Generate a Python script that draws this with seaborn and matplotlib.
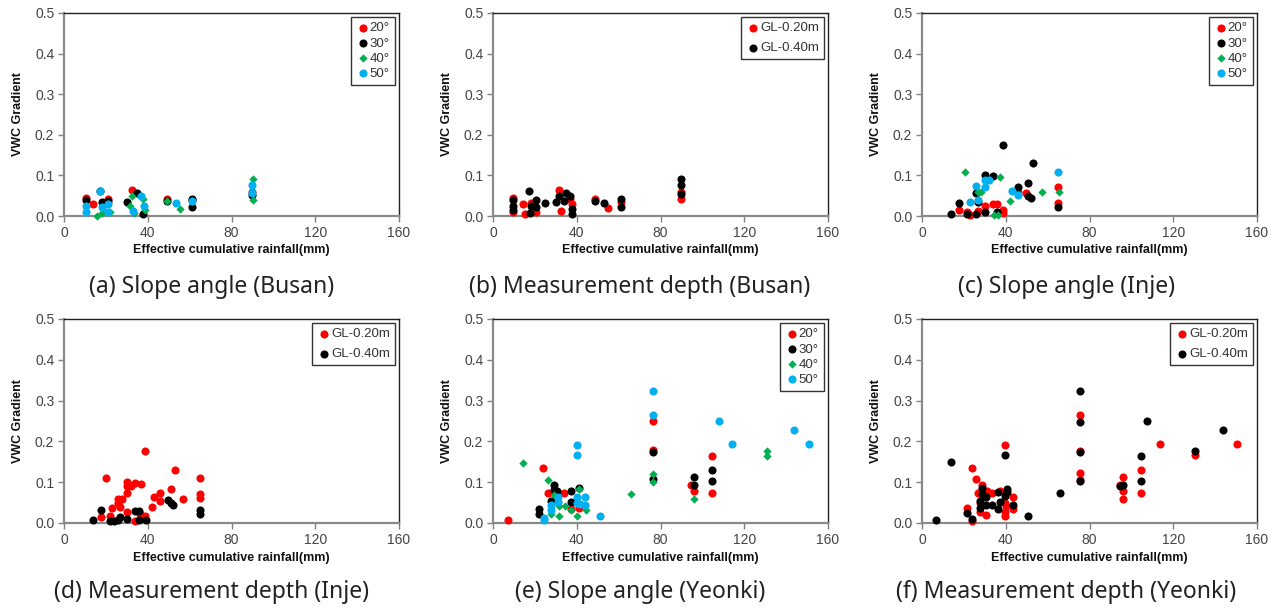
import matplotlib
matplotlib.use("Agg")
import matplotlib.pyplot as plt
import seaborn as sns
import pandas as pd

# ---------------- data ----------------
angle_labels = ["20°", "30°", "40°", "50°"]
depth_labels = ["GL-0.20m", "GL-0.40m"]
x_ticks = [0, 40, 80, 120, 160]
y_ticks = [0.0, 0.1, 0.2, 0.3, 0.4, 0.5]
x_label = "Effective cumulative rainfall(mm)"
y_label = "VWC Gradient"
captions = ["(a) Slope angle (Busan)", "(b) Measurement depth (Busan)", "(c) Slope angle (Inje)",
            "(d) Measurement depth (Inje)", "(e) Slope angle (Yeonki)", "(f) Measurement depth (Yeonki)"]

# (a) Slope angle (Busan)
a20_x = [10.3, 14, 21.1, 32.3, 49, 61, 90]
a20_y = [0.044, 0.030, 0.041, 0.064, 0.042, 0.039, 0.058]
a30_x = [10.3, 17.2, 18, 21.1, 29.9, 35, 37.8, 49, 61, 90, 61]
a30_y = [0.039, 0.062, 0.035, 0.037, 0.034, 0.056, 0.006, 0.037, 0.023, 0.052, 0.041]
a40_x = [15.6, 18, 22, 31.5, 32.6, 33.4, 37.5, 38.6, 49, 55.3, 90.3, 90.3, 61]
a40_y = [0.001, 0.007, 0.011, 0.025, 0.049, 0.008, 0.041, 0.015, 0.037, 0.018, 0.090, 0.039, 0.037]
a50_x = [10.3, 10.3, 17.2, 18, 21.1, 21.1, 33, 37, 38.2, 53.3, 61, 90, 90]
a50_y = [0.025, 0.010, 0.062, 0.021, 0.030, 0.011, 0.013, 0.050, 0.025, 0.031, 0.037, 0.077, 0.056]

# (b) Measurement depth (Busan)
b20_x = [9.7, 9.7, 14.1, 15.1, 18.1, 20.6, 31.6, 32.7, 36.9, 37.8, 48.8, 54.7, 60.9, 89.6, 89.6]
b20_y = [0.045, 0.009, 0.030, 0.004, 0.033, 0.011, 0.064, 0.012, 0.041, 0.030, 0.041, 0.020, 0.035, 0.058, 0.041]
b40_x = [9.7, 9.7, 9.7, 17, 17.8, 18.1, 20.6, 20.6, 25, 29.9, 31.6, 34, 35, 36.9, 37.8, 37.8,
         48.8, 53.1, 60.9, 60.9, 89.6, 89.6, 89.6]
b40_y = [0.039, 0.025, 0.015, 0.062, 0.007, 0.025, 0.039, 0.023, 0.031, 0.034, 0.050, 0.037, 0.056,
         0.050, 0.017, 0.005, 0.037, 0.031, 0.042, 0.021, 0.091, 0.076, 0.053]

# (c) Slope angle (Inje)
c20_x = [17.8, 21.7, 23.1, 26.6, 29.9, 33.8, 35.9, 38.7, 38.7, 45.7, 49.8, 65, 65]
c20_y = [0.015, 0.009, 0.002, 0.013, 0.025, 0.029, 0.029, 0.015, 0.007, 0.058, 0.056, 0.072, 0.031]
c30_x = [13.9, 17.8, 21.7, 26, 26, 26.8, 29.9, 29.9, 33.8, 35.9, 38.7, 45.7, 50.6, 50.6, 51.9, 53, 65]
c30_y = [0.005, 0.031, 0.005, 0.056, 0.005, 0.035, 0.100, 0.009, 0.099, 0.009, 0.176, 0.072, 0.082,
         0.050, 0.044, 0.130, 0.021]
c40_x = [20.4, 26.6, 28.2, 34.2, 36.1, 37.3, 42.2, 57.2, 65.5]
c40_y = [0.108, 0.058, 0.058, 0.002, 0.002, 0.095, 0.037, 0.058, 0.060]
c50_x = [22.8, 26, 26.6, 29.9, 29.9, 31.8, 43, 45.7, 65]
c50_y = [0.035, 0.075, 0.039, 0.072, 0.089, 0.089, 0.062, 0.052, 0.109]

# (d) Measurement depth (Inje)
d20_x = [20.2, 17.9, 21.9, 23, 25.9, 25.9, 26.7, 27.8, 29.9, 29.9, 30, 30, 32, 33.9, 36.7, 38.8, 38.8,
         36.2, 33.9, 42.1, 42.9, 45.9, 45.9, 51, 53.1, 56.9, 64.9, 64.9, 64.9]
d20_y = [0.111, 0.015, 0.016, 0.036, 0.060, 0.049, 0.039, 0.058, 0.101, 0.090, 0.074, 0.027, 0.090,
         0.099, 0.096, 0.176, 0.016, 0.021, 0.005, 0.039, 0.063, 0.074, 0.054, 0.083, 0.130, 0.059,
         0.111, 0.072, 0.062]
d40_x = [14, 17.9, 21.9, 24, 25.9, 26.7, 30.2, 33.9, 35.9, 35.9, 39, 49.8, 51, 52.1, 64.9, 64.9]
d40_y = [0.007, 0.032, 0.005, 0.004, 0.007, 0.015, 0.010, 0.030, 0.030, 0.008, 0.008, 0.056, 0.050,
         0.045, 0.033, 0.023]

# (e) Slope angle (Yeonki)
e20_x = [7, 23.8, 26.5, 33.7, 37.2, 40.9, 76.2, 76.2, 94.4, 96, 104.8, 104.8]
e20_y = [0.007, 0.136, 0.074, 0.074, 0.034, 0.036, 0.249, 0.178, 0.092, 0.079, 0.165, 0.074]
e30_x = [21.8, 21.8, 27.8, 28.9, 28.9, 30.8, 37.2, 37.2, 41, 76.2, 76.2, 96, 96, 104.8, 104.8]
e30_y = [0.035, 0.023, 0.055, 0.094, 0.082, 0.078, 0.078, 0.051, 0.085, 0.174, 0.107, 0.113, 0.094,
         0.130, 0.103]
e40_x = [14.3, 26.5, 27.8, 29.2, 31.5, 31.5, 34.5, 37.2, 40.1, 40.1, 41.2, 44.2, 66.1, 76.2, 76.2,
         96.2, 130.7, 130.7]
e40_y = [0.147, 0.105, 0.023, 0.069, 0.016, 0.041, 0.041, 0.031, 0.049, 0.016, 0.083, 0.033, 0.071,
         0.119, 0.101, 0.058, 0.176, 0.165]
e50_x = [24.2, 24.2, 27.8, 27.8, 31.2, 31.2, 39.9, 39.9, 39.9, 39.9, 41.7, 43.9, 43.9, 50.9, 76.2,
         76.2, 107.8, 114, 143.7, 150.9]
e50_y = [0.012, 0.007, 0.043, 0.033, 0.063, 0.052, 0.191, 0.167, 0.063, 0.050, 0.046, 0.063, 0.043,
         0.016, 0.323, 0.265, 0.249, 0.193, 0.227, 0.193]

# (f) Measurement depth (Yeonki)
f20_x = [21.7, 23.7, 23.7, 25.6, 26.6, 27.5, 27.5, 28.7, 30.7, 31.1, 33.6, 37.4, 39.5, 39.5, 39.5,
         39.5, 40.3, 43.5, 43.5, 75.6, 75.6, 75.6, 75.6, 94.6, 95.9, 95.9, 95.9, 104.8, 104.8, 113.5,
         130.4, 150.6]
f20_y = [0.036, 0.136, 0.006, 0.107, 0.073, 0.050, 0.027, 0.092, 0.019, 0.079, 0.074, 0.079, 0.191,
         0.049, 0.026, 0.016, 0.041, 0.063, 0.035, 0.265, 0.177, 0.123, 0.106, 0.092, 0.112, 0.079,
         0.060, 0.131, 0.074, 0.193, 0.166, 0.193]
f40_x = [6.7, 13.9, 21.7, 23.7, 27.5, 27.5, 28.7, 28.7, 30.7, 30.7, 33.6, 36.5, 36.5, 37.4, 39.5,
         39.5, 40.6, 40.6, 43.5, 50.6, 65.8, 75.6, 75.6, 75.6, 75.6, 94.6, 95.9, 104.8, 104.8, 107.6,
         130.4, 143.6]
f40_y = [0.007, 0.149, 0.024, 0.011, 0.055, 0.037, 0.086, 0.071, 0.063, 0.043, 0.043, 0.076, 0.034,
         0.051, 0.167, 0.065, 0.084, 0.075, 0.043, 0.016, 0.073, 0.324, 0.248, 0.175, 0.103, 0.090,
         0.094, 0.165, 0.103, 0.249, 0.177, 0.227]

angle_colors = ["#FF0000", "#000000", "#00B050", "#00B0F0"]
angle_markers = ["o", "o", "D", "o"]
angle_sizes = [34, 34, 18, 34]
depth_colors = ["#FF0000", "#000000"]

panels = [
    ("angle", [(a20_x, a20_y), (a30_x, a30_y), (a40_x, a40_y), (a50_x, a50_y)]),
    ("depth", [(b20_x, b20_y), (b40_x, b40_y)]),
    ("angle", [(c20_x, c20_y), (c30_x, c30_y), (c40_x, c40_y), (c50_x, c50_y)]),
    ("depth", [(d20_x, d20_y), (d40_x, d40_y)]),
    ("angle", [(e20_x, e20_y), (e30_x, e30_y), (e40_x, e40_y), (e50_x, e50_y)]),
    ("depth", [(f20_x, f20_y), (f40_x, f40_y)]),
]

# ---------------- figure ----------------
sns.set_theme(style="white")
plt.rcParams["font.family"] = ["Liberation Sans", "DejaVu Sans"]

W, H = 1274, 609
fig = plt.figure(figsize=(W / 100, H / 100), dpi=100)

col_left = [64, 493, 922]
col_w = 335
row_top = [13, 319]
row_h = [203, 204]
cap_cx = [212, 640, 1066]
cap_cy = [287, 592]

for i, (kind, series) in enumerate(panels):
    r, c = divmod(i, 3)
    ax = fig.add_axes([col_left[c] / W, 1 - (row_top[r] + row_h[r]) / H, col_w / W, row_h[r] / H])
    if kind == "angle":
        labels, colors, markers, sizes = angle_labels, angle_colors, angle_markers, angle_sizes
    else:
        labels, colors, markers, sizes = depth_labels, depth_colors, ["o", "o"], [34, 34]
    for (xs, ys), lab, col, mk, sz in zip(series, labels, colors, markers, sizes):
        df = pd.DataFrame({"x": xs, "y": ys})
        sns.scatterplot(data=df, x="x", y="y", color=col, marker=mk, s=sz, linewidth=0,
                        label=lab, ax=ax, zorder=3, clip_on=False)
    ax.set_xlim(0, 160)
    ax.set_ylim(0, 0.5)
    ax.set_xticks(x_ticks)
    ax.set_yticks(y_ticks)
    ax.set_xticklabels([str(t) for t in x_ticks])
    ax.set_yticklabels([f"{t:.1f}" for t in y_ticks])
    ax.tick_params(axis="both", which="major", direction="out", length=4, width=1,
                   color="#808080", labelsize=10, labelcolor="#444444", pad=3,
                   bottom=True, left=True)
    for side in ["left", "bottom"]:
        ax.spines[side].set_color("#8a8a8a")
        ax.spines[side].set_linewidth(1.6)
    for side in ["top", "right"]:
        ax.spines[side].set_color("#202020")
        ax.spines[side].set_linewidth(1.0)
    ax.set_xlabel(x_label, fontsize=9, fontweight="bold", color="#111111")
    ax.set_ylabel(y_label, fontsize=9, fontweight="bold", color="#111111")
    ax.xaxis.set_label_coords(0.5, -0.14)
    ax.yaxis.set_label_coords(-0.118, 0.5)
    ax.grid(False)
    if kind == "angle":
        leg = ax.legend(loc="upper right", fontsize=9.5, frameon=True, fancybox=False,
                        edgecolor="#000000", handletextpad=0.05, handlelength=1.0,
                        labelspacing=0.22, borderpad=0.4, borderaxespad=0.3,
                        markerscale=1.0)
    else:
        leg = ax.legend(loc="upper right", fontsize=9.5, frameon=True, fancybox=False,
                        edgecolor="#000000", handletextpad=0.05, handlelength=1.0,
                        labelspacing=0.55, borderpad=0.4, borderaxespad=0.3,
                        markerscale=1.0)
    leg.get_frame().set_linewidth(1.0)
    for t in leg.get_texts():
        t.set_color("#333333")
    fig.text(cap_cx[c] / W, 1 - cap_cy[r] / H, captions[i], ha="center", va="center",
             fontsize=16.5, color="#222222",
             family=["Noto Sans", "DejaVu Sans"], fontweight="light")

fig.savefig("out.png", dpi=100)
